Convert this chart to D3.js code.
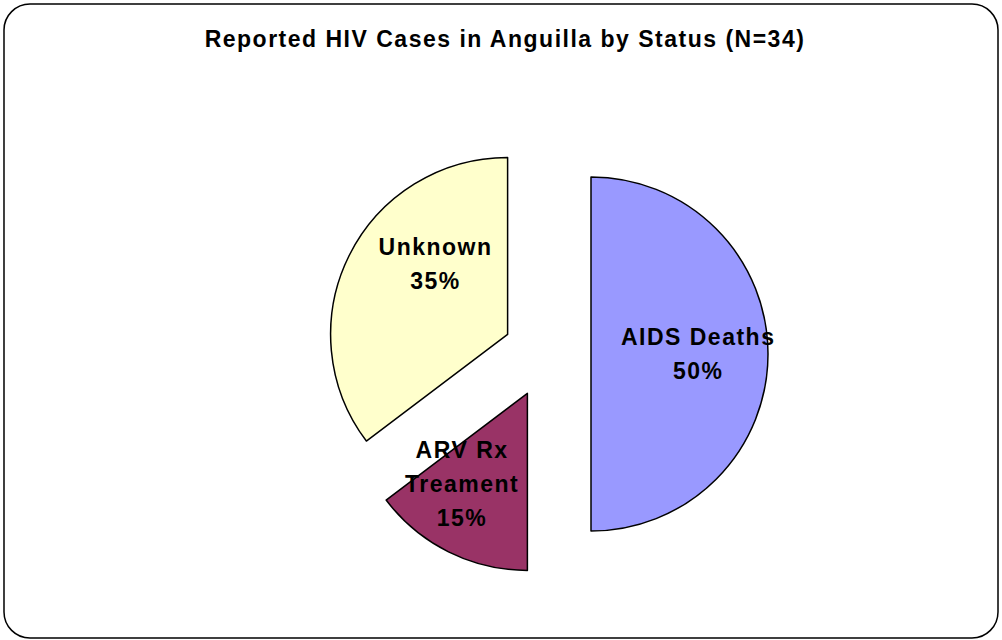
<!DOCTYPE html>
<html>
<head>
<meta charset="utf-8">
<script src="https://cdn.jsdelivr.net/npm/d3@7"></script>
<style>
  body { margin: 0; background: #fff; }
  svg { display: block; font-family: "Liberation Sans", Arial, sans-serif; }
</style>
</head>
<body>
<div id="chart"></div>
<script>
// data
var categories = ["AIDS Deaths", "ARV Rx Treament", "Unknown"];
var labelLines = [["AIDS Deaths"], ["ARV Rx", "Treament"], ["Unknown"]];
var counts = [17, 5, 12];
var colors = ["#9999ff", "#993366", "#ffffcc"];

var width = 1002, height = 640;
var cx = 547, cy = 354, radius = 177, explode = 44;

var svg = d3.select("#chart").append("svg")
    .attr("width", width)
    .attr("height", height);

svg.append("rect")
    .attr("x", 4).attr("y", 4)
    .attr("width", 994).attr("height", 634)
    .attr("rx", 26).attr("ry", 26)
    .attr("fill", "#fff")
    .attr("stroke", "#000")
    .attr("stroke-width", 1.5);

svg.append("text")
    .attr("x", 505)
    .attr("y", 47)
    .attr("text-anchor", "middle")
    .attr("font-size", "23px")
    .attr("font-weight", "bold")
    .attr("letter-spacing", "1.5px")
    .text("Reported HIV Cases in Anguilla by Status (N=34)");

var total = d3.sum(counts);
var data = categories.map(function (c, i) {
    return { name: c, lines: labelLines[i], value: counts[i], color: colors[i] };
});

var pie = d3.pie()
    .sort(null)
    .value(function (d) { return d.value; });

var arc = d3.arc().innerRadius(0).outerRadius(radius);
var labelArc = d3.arc().innerRadius(radius * 0.6).outerRadius(radius * 0.6);

// small nudges so labels sit like the original
var labelNudge = { "AIDS Deaths": [1, 0], "ARV Rx Treament": [-18, -4], "Unknown": [23, -23] };

var g = svg.append("g")
    .attr("transform", "translate(" + cx + "," + cy + ")");

var slices = g.selectAll(".slice")
    .data(pie(data))
    .enter().append("g")
    .attr("class", "slice")
    .attr("transform", function (d) {
        var a = (d.startAngle + d.endAngle) / 2;
        return "translate(" + (Math.sin(a) * explode) + "," + (-Math.cos(a) * explode) + ")";
    });

slices.append("path")
    .attr("d", arc)
    .attr("fill", function (d) { return d.data.color; })
    .attr("stroke", "#000")
    .attr("stroke-width", 1.5)
    .attr("stroke-linejoin", "round");

slices.each(function (d) {
    var c = labelArc.centroid(d);
    var n = labelNudge[d.data.name];
    var lines = d.data.lines.concat([Math.round(d.data.value / total * 100) + "%"]);
    var lh = 34;
    var t = d3.select(this).append("text")
        .attr("text-anchor", "middle")
        .attr("font-size", "23px")
        .attr("font-weight", "bold")
        .attr("letter-spacing", "1.5px")
        .attr("fill", "#000");
    lines.forEach(function (l, i) {
        t.append("tspan")
            .attr("x", c[0] + n[0])
            .attr("y", c[1] + n[1] + (i - (lines.length - 1) / 2) * lh + 8)
            .text(l);
    });
});
</script>
</body>
</html>
